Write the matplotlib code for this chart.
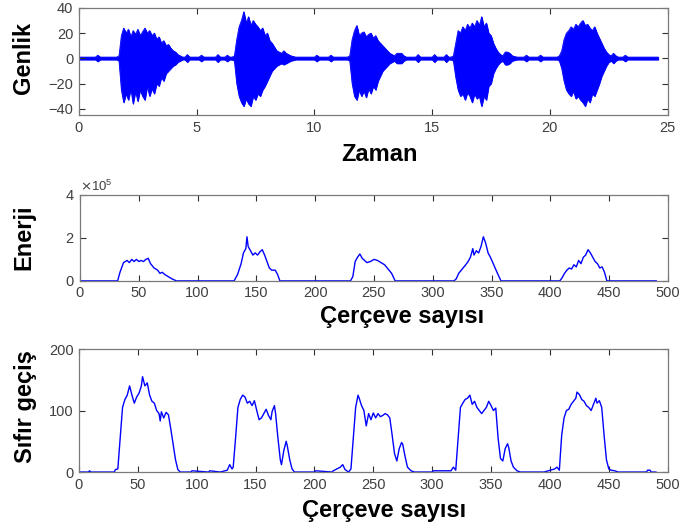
#!/usr/bin/env python
# coding: utf-8

# Speech signal: amplitude, short-time energy and zero crossing rate

import numpy             as np
import matplotlib        as mpl
mpl.use("Agg")
import matplotlib.pyplot as plt
from matplotlib.ticker import ScalarFormatter


# Waveform envelope, 0.1 s grid
t_step   = 0.1
t_end    = 24.6
base_amp = 1.0

burst_start = [1.7, 6.6, 11.5, 15.9, 20.4]
burst_up = [
    [2, 18, 24, 20, 23, 17, 22, 19, 23, 18, 21, 24, 20, 22, 18, 20, 15, 17, 12, 14, 10, 11, 8, 6, 5, 3, 2],
    [2, 15, 25, 30, 37, 28, 33, 26, 30, 27, 25, 22, 24, 18, 20, 14, 12, 9, 6, 5, 4, 6, 4, 3, 2, 1.5],
    [2, 15, 22, 26, 18, 20, 21, 17, 19, 20, 16, 18, 14, 12, 10, 8, 6, 4, 3, 2, 4, 4, 4, 2],
    [2, 12, 22, 20, 25, 22, 27, 24, 28, 25, 30, 26, 33, 25, 28, 20, 18, 12, 8, 5, 3, 2, 5, 5, 4, 2, 1.5],
    [2, 6, 15, 20, 22, 25, 23, 27, 25, 28, 30, 26, 27, 24, 22, 25, 20, 16, 12, 8, 5, 3, 2, 4, 2],
]
burst_low = [
    [-2, -25, -35, -28, -33, -24, -36, -26, -34, -25, -30, -33, -22, -30, -24, -28, -20, -22, -15, -18, -12, -10, -8, -6, -5, -3, -2],
    [-2, -20, -30, -35, -38, -32, -36, -38, -30, -33, -28, -30, -25, -22, -18, -14, -10, -8, -6, -5, -4, -5, -4, -3, -2, -1.5],
    [-2, -20, -30, -33, -25, -30, -26, -31, -24, -28, -22, -25, -18, -14, -10, -8, -6, -4, -3, -2, -4, -4, -4, -2],
    [-2, -15, -25, -30, -28, -33, -27, -30, -35, -28, -32, -30, -38, -30, -33, -22, -20, -12, -8, -5, -3, -2, -5, -5, -4, -2, -1.5],
    [-2, -8, -18, -25, -28, -30, -26, -32, -30, -33, -35, -38, -32, -35, -28, -30, -25, -20, -14, -10, -6, -3, -2, -4, -2],
]
# small blips in the pauses
blip_t   = [0.8, 4.6, 5.2, 5.9, 6.3, 10.1, 10.7, 14.4, 15.1, 15.6, 19.0, 19.6, 23.2]
blip_amp = [2.5, 3, 2.5, 3, 2.5, 2.5, 2.5, 3, 3, 3, 2.5, 2.5, 2.5]

# Short-time energy (frames, x1e5)
en_frames = [0, 32, 34, 37, 40, 42, 44, 46, 48, 50, 52, 54, 56, 58, 60, 63, 66, 68, 70, 72, 75, 78, 82,
             131, 134, 137, 139, 141, 142, 143, 145, 147, 149, 151, 153, 155, 157, 159, 161, 163, 166, 168, 170,
             230, 232, 234, 236, 238, 240, 242, 244, 247, 250, 253, 256, 259, 262, 265, 268,
             318, 320, 322, 325, 328, 330, 332, 334, 335, 337, 339, 341, 343, 345, 347, 349, 351, 353, 355, 358,
             408, 410, 412, 414, 416, 418, 420, 422, 424, 426, 428, 430, 432, 434, 436, 438, 440, 442, 444, 446, 448, 490]
en_vals = [0, 0, 0.4, 0.85, 0.95, 0.85, 1.0, 0.9, 1.0, 0.9, 0.95, 0.9, 1.0, 1.05, 0.8, 0.6, 0.5, 0.35, 0.4, 0.3, 0.2, 0.1, 0,
           0, 0.3, 0.8, 1.3, 1.5, 2.05, 1.6, 1.4, 1.2, 1.3, 1.2, 1.35, 1.45, 1.2, 0.9, 0.6, 0.5, 0.5, 0.3, 0,
           0, 0.2, 0.9, 1.1, 1.25, 1.05, 0.95, 0.85, 0.9, 1.0, 0.95, 0.85, 0.75, 0.55, 0.35, 0,
           0, 0.1, 0.35, 0.55, 0.75, 0.9, 1.1, 1.5, 1.2, 1.4, 1.3, 1.6, 2.05, 1.75, 1.3, 1.1, 0.85, 0.6, 0.35, 0,
           0, 0.15, 0.35, 0.5, 0.6, 0.55, 0.75, 0.65, 0.95, 0.8, 1.1, 1.2, 1.45, 1.3, 1.1, 0.9, 0.8, 0.6, 0.65, 0.4, 0, 0]

# Zero crossing rate (frames)
zc_frames = [0, 8, 9, 10, 30, 31, 33, 35, 37, 39, 41, 43, 45, 47, 49, 51, 53, 54, 56, 58, 60, 62, 64, 66, 68, 69, 70,
             72, 74, 76, 78, 80, 82, 84, 86, 95, 96, 110, 111, 120, 126, 128, 130,
             131, 133, 135, 137, 139, 141, 143, 145, 147, 149, 151, 153, 155, 157, 159, 161, 163, 164, 166, 167,
             169, 171, 172, 174, 176, 177, 179, 181, 183, 200, 201, 215, 216, 222, 224, 226, 229,
             231, 233, 235, 237, 238, 240, 242, 244, 246, 248, 250, 252, 254, 256, 258, 260, 262, 264, 266, 268, 270,
             272, 274, 275, 277, 279, 282, 285, 300, 301,
             316, 318, 320, 322, 324, 326, 328, 330, 332, 334, 336, 338, 340, 342, 344, 346, 348, 350, 352, 354,
             356, 358, 360, 362, 364, 365, 367, 369, 372, 375, 395, 404, 406, 408,
             410, 412, 414, 416, 418, 420, 422, 423, 425, 427, 429, 431, 433, 435, 437, 439, 440, 442, 444, 446,
             448, 450, 452, 455, 458, 482, 483, 485, 486, 490]
zc_vals = [0, 0, 2, 0, 0, 4, 5, 55, 105, 118, 125, 140, 125, 112, 122, 128, 140, 155, 140, 145, 125, 115, 112, 100, 95, 83, 98,
           88, 97, 93, 70, 45, 20, 4, 0, 0, 2, 0, 2, 0, 3, 12, 5,
           8, 55, 105, 118, 125, 122, 112, 115, 108, 116, 100, 85, 88, 95, 102, 92, 85, 98, 108, 95,
           55, 20, 12, 35, 50, 42, 20, 5, 0, 0, 2, 0, 2, 8, 12, 4, 0,
           5, 55, 105, 125, 120, 108, 100, 75, 95, 85, 96, 88, 95, 90, 92, 95, 93, 88, 60, 30, 18,
           38, 48, 45, 25, 8, 2, 0, 0, 2,
           2, 8, 3, 55, 105, 112, 118, 120, 125, 110, 115, 105, 100, 95, 100, 105, 115, 108, 100, 104,
           55, 22, 18, 38, 46, 40, 18, 8, 2, 0, 0, 5, 8, 3,
           60, 88, 100, 102, 110, 115, 120, 130, 126, 118, 115, 108, 105, 100, 110, 120, 112, 116, 105, 60,
           20, 5, 3, 2, 0, 0, 3, 3, 0, 0]


# Build the waveform envelope arrays
n_t   = int(round(t_end / t_step)) + 1
t     = np.round(np.arange(n_t) * t_step, 1)
upper = np.full(n_t, base_amp)
lower = np.full(n_t, -base_amp)
for start, up, low in zip(burst_start, burst_up, burst_low):
    i0 = int(round(start / t_step))
    upper[i0:i0 + len(up)]  = up
    lower[i0:i0 + len(low)] = low
for bt, ba in zip(blip_t, blip_amp):
    i = int(round(bt / t_step))
    upper[i] = ba
    lower[i] = -ba


plt.rcParams['font.family'] = ['Liberation Sans', 'DejaVu Sans']

blue      = '#0000ff'
tick_col  = '#404040'
spine_col = '#7a7a7a'
lab_size  = 17


def style_axes(ax):
    ax.tick_params(direction='in', top=True, right=True, length=4, width=0.8,
                   color='#303030', labelsize=10.5, labelcolor=tick_col, pad=4)
    for s in ax.spines.values():
        s.set_color(spine_col)
        s.set_linewidth(0.9)


fig = plt.figure(figsize=(6.79, 5.28), dpi=100)

# 1. Waveform
ax1 = fig.add_axes([0.1163, 0.782, 0.867, 0.203])
ax1.fill_between(t, lower, upper, color=blue, linewidth=0.6, edgecolor=blue)
ax1.plot(t, upper, color=blue, linewidth=0.6)
ax1.plot(t, lower, color=blue, linewidth=0.6)
ax1.set_xlim(0, 25)
ax1.set_ylim(-45, 40)
ax1.set_xticks([0, 5, 10, 15, 20, 25])
ax1.set_yticks([-40, -20, 0, 20, 40])
style_axes(ax1)

# 2. Energy
ax2 = fig.add_axes([0.1178, 0.468, 0.866, 0.163])
ax2.plot(en_frames, np.array(en_vals) * 1e5, color=blue, linewidth=1.0)
ax2.set_xlim(0, 500)
ax2.set_ylim(0, 4e5)
ax2.set_xticks(np.arange(0, 501, 50))
ax2.set_yticks([0, 2e5, 4e5])
fmt = ScalarFormatter(useMathText=True)
fmt.set_powerlimits((0, 0))
ax2.yaxis.set_major_formatter(fmt)
ax2.yaxis.get_offset_text().set_fontsize(9.5)
ax2.yaxis.get_offset_text().set_color(tick_col)
style_axes(ax2)

# 3. Zero crossings
ax3 = fig.add_axes([0.1163, 0.106, 0.867, 0.233])
ax3.plot(zc_frames, zc_vals, color=blue, linewidth=1.0)
ax3.set_xlim(0, 500)
ax3.set_ylim(0, 200)
ax3.set_xticks(np.arange(0, 501, 50))
ax3.set_yticks([0, 100, 200])
style_axes(ax3)

# Labels
fig.text(0.035, 1 - 58 / 528, "Genlik", rotation=90, ha='center', va='center',
         fontsize=lab_size, fontweight='bold')
fig.text(0.035, 1 - 237 / 528, "Enerji", rotation=90, ha='center', va='center',
         fontsize=lab_size, fontweight='bold')
fig.text(0.037, 1 - 407 / 528, "Sıfır geçiş", rotation=90, ha='center', va='center',
         fontsize=lab_size, fontweight='bold')
fig.text(379 / 679, 1 - 161 / 528, "Zaman", ha='center', va='baseline',
         fontsize=lab_size, fontweight='bold')
fig.text(402 / 679, 1 - 323 / 528, "Çerçeve sayısı", ha='center', va='baseline',
         fontsize=lab_size, fontweight='bold')
fig.text(384 / 679, 1 - 517 / 528, "Çerçeve sayısı", ha='center', va='baseline',
         fontsize=lab_size, fontweight='bold')

plt.savefig("out.png", dpi=100)
